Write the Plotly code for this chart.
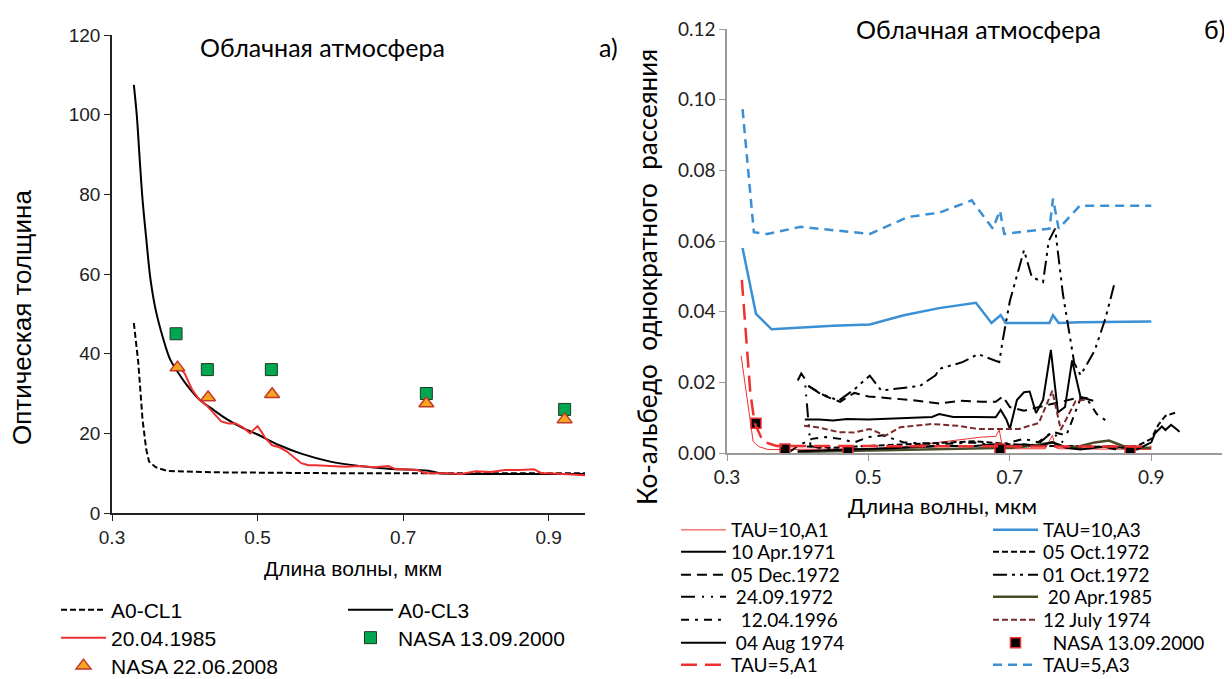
import plotly.graph_objects as go

# The page draws the figure 8 px in from the top-left corner of the window,
# so the figure is 8 px smaller and all reference pixel positions are shifted by 8.
OFF = 8
W, H = 1232 - OFF, 679 - OFF

def PX(x):
    return (x - OFF) / W

def PY(y):
    return 1 - (y - OFF) / H

# ---------------- Left panel data (optical thickness) ----------------
cl1_x = [0.33, 0.336, 0.342, 0.347, 0.351, 0.36, 0.375, 0.40, 0.45, 0.50, 0.60, 0.70, 0.80, 0.95]
cl1_y = [47.7, 38.0, 23.4, 16.0, 12.9, 11.5, 10.6, 10.4, 10.2, 10.1, 10.0, 10.0, 10.0, 10.0]

cl3_x = [0.33, 0.334, 0.338, 0.342, 0.347, 0.353, 0.36, 0.37, 0.38, 0.39, 0.40, 0.42, 0.44, 0.46,
         0.48, 0.50, 0.53, 0.56, 0.60, 0.64, 0.68, 0.72, 0.735, 0.75, 0.80, 0.95]
cl3_y = [107.5, 100.0, 89.0, 78.6, 69.0, 58.5, 51.0, 44.0, 38.5, 35.5, 32.8, 28.5, 25.8, 23.3,
         21.3, 19.7, 17.0, 14.9, 12.9, 11.8, 11.1, 10.8, 10.6, 10.0, 9.8, 9.8]

r85_x = [0.39, 0.40, 0.405, 0.41, 0.42, 0.43, 0.44, 0.45, 0.46, 0.47, 0.48, 0.49, 0.495, 0.50,
         0.505, 0.51, 0.52, 0.53, 0.54, 0.55, 0.56, 0.57, 0.58, 0.60, 0.62, 0.64, 0.66, 0.68,
         0.69, 0.70, 0.72, 0.73, 0.74, 0.76, 0.78, 0.80, 0.82, 0.84, 0.86, 0.88, 0.89, 0.90,
         0.92, 0.95]
r85_y = [37.0, 35.0, 33.0, 31.0, 28.5, 27.0, 25.0, 23.0, 22.5, 22.5, 21.5, 20.0, 21.0, 21.8,
         20.5, 19.0, 17.0, 16.5, 15.5, 14.0, 12.5, 12.0, 12.0, 11.8, 11.6, 11.8, 11.5, 11.8,
         11.0, 11.0, 10.8, 10.0, 10.0, 10.0, 9.8, 10.5, 10.3, 10.8, 10.8, 11.0, 10.0, 10.0,
         9.8, 9.5]

nasa00_x = [0.388, 0.431, 0.519, 0.732, 0.922]
nasa00_y = [45.0, 36.0, 36.0, 30.0, 26.0]
nasa08_x = [0.39, 0.432, 0.52, 0.732, 0.922]
nasa08_y = [36.5, 29.0, 29.8, 27.5, 23.5]

# ---------------- Right panel data (co-albedo) ----------------
t10a1_x = [0.32, 0.33, 0.337, 0.345, 0.358, 0.38, 0.40, 0.45, 0.50, 0.55, 0.58, 0.60, 0.62, 0.64,
           0.66, 0.68, 0.685, 0.69, 0.70, 0.72, 0.75, 0.76, 0.765, 0.77, 0.80, 0.85, 0.90]
t10a1_y = [0.0275, 0.014, 0.0032, 0.0018, 0.001, 0.001, 0.001, 0.001, 0.0012, 0.0018, 0.0025,
           0.003, 0.0035, 0.004, 0.0045, 0.0047, 0.0065, 0.0012, 0.0012, 0.0012, 0.0012, 0.005,
           0.0015, 0.0012, 0.0012, 0.001, 0.001]

t10a3_x = [0.322, 0.341, 0.363, 0.40, 0.45, 0.502, 0.55, 0.60, 0.652, 0.674, 0.687, 0.694, 0.756,
           0.761, 0.769, 0.80, 0.90]
t10a3_y = [0.058, 0.0394, 0.035, 0.0355, 0.036, 0.0364, 0.039, 0.041, 0.0425, 0.0368, 0.039,
           0.0368, 0.0368, 0.039, 0.0368, 0.037, 0.0372]

apr71_x = [0.41, 0.43, 0.45, 0.47, 0.50, 0.53, 0.56, 0.59, 0.60, 0.62, 0.65, 0.68, 0.687, 0.695,
           0.70, 0.71, 0.72, 0.728, 0.737, 0.747, 0.758, 0.768, 0.778, 0.788, 0.80, 0.818]
apr71_y = [0.0095, 0.0095, 0.0092, 0.0096, 0.0095, 0.0097, 0.0098, 0.0102, 0.011, 0.0102, 0.0102,
           0.0101, 0.0122, 0.0095, 0.0068, 0.015, 0.0172, 0.0174, 0.0113, 0.015, 0.0292, 0.0115,
           0.013, 0.0262, 0.0158, 0.0148]

oct05_x = [0.40, 0.45, 0.50, 0.55, 0.60, 0.65, 0.70, 0.75, 0.80, 0.85, 0.88, 0.90, 0.91, 0.92, 0.935]
oct05_y = [0.002, 0.0015, 0.002, 0.0025, 0.003, 0.0033, 0.0025, 0.002, 0.002, 0.0015, 0.002,
           0.004, 0.008, 0.0105, 0.0115]

dec05_x = [0.415, 0.44, 0.46, 0.48, 0.50, 0.53, 0.56, 0.60, 0.63, 0.66, 0.68, 0.69, 0.70, 0.72,
           0.74, 0.76, 0.78, 0.80, 0.81]
dec05_y = [0.019, 0.016, 0.0145, 0.017, 0.016, 0.0155, 0.015, 0.014, 0.0148, 0.0145, 0.0145,
           0.016, 0.013, 0.012, 0.013, 0.014, 0.015, 0.0158, 0.0155]

oct01_x = [0.415, 0.43, 0.458, 0.48, 0.502, 0.518, 0.545, 0.573, 0.595, 0.60, 0.633, 0.655, 0.685,
           0.69, 0.70, 0.72, 0.731, 0.747, 0.755, 0.764, 0.775, 0.786, 0.791, 0.80, 0.82, 0.835,
           0.848]
oct01_y = [0.019, 0.017, 0.0148, 0.018, 0.0219, 0.0177, 0.0183, 0.019, 0.022, 0.0238, 0.0257,
           0.028, 0.0257, 0.032, 0.043, 0.0574, 0.0498, 0.0484, 0.060, 0.0635, 0.045, 0.032,
           0.0255, 0.022, 0.029, 0.038, 0.048]

sep24_x = [0.40, 0.405, 0.41, 0.418, 0.43, 0.45, 0.50, 0.55, 0.60, 0.65, 0.70, 0.72, 0.74, 0.76,
           0.78, 0.80, 0.82, 0.84, 0.85]
sep24_y = [0.0205, 0.0225, 0.021, 0.002, 0.0015, 0.001, 0.001, 0.0015, 0.002, 0.002, 0.0015,
           0.002, 0.0025, 0.006, 0.002, 0.0015, 0.002, 0.0015, 0.001]

apr85_x = [0.40, 0.45, 0.50, 0.55, 0.60, 0.65, 0.70, 0.73, 0.76, 0.78, 0.80, 0.82, 0.84, 0.86,
           0.88, 0.90]
apr85_y = [0.0003, 0.0005, 0.0008, 0.001, 0.0012, 0.0013, 0.0015, 0.002, 0.003, 0.0015, 0.002,
           0.003, 0.0035, 0.002, 0.0015, 0.0015]

apr96_x = [0.39, 0.40, 0.42, 0.44, 0.46, 0.48, 0.50, 0.52, 0.55, 0.60, 0.65, 0.68, 0.70, 0.72,
           0.74, 0.76, 0.78, 0.80, 0.81, 0.823, 0.837]
apr96_y = [0.0005, 0.002, 0.004, 0.0045, 0.004, 0.003, 0.0045, 0.005, 0.003, 0.0025, 0.003,
           0.002, 0.003, 0.004, 0.003, 0.006, 0.005, 0.0155, 0.015, 0.011, 0.009]

jul74_x = [0.409, 0.43, 0.458, 0.48, 0.502, 0.524, 0.545, 0.589, 0.627, 0.655, 0.682, 0.713,
           0.741, 0.76, 0.772, 0.793, 0.807]
jul74_y = [0.0077, 0.0072, 0.0059, 0.0058, 0.0068, 0.0049, 0.0073, 0.0082, 0.0077, 0.0068,
           0.0068, 0.0068, 0.0085, 0.0176, 0.0066, 0.0147, 0.0151]

aug74_x = [0.40, 0.45, 0.50, 0.55, 0.60, 0.65, 0.68, 0.70, 0.72, 0.74, 0.76, 0.78, 0.80, 0.82,
           0.84, 0.86, 0.88, 0.90, 0.905, 0.915, 0.92, 0.928, 0.94]
aug74_y = [0.0005, 0.0008, 0.001, 0.0015, 0.002, 0.002, 0.0025, 0.002, 0.0025, 0.002, 0.003,
           0.0015, 0.001, 0.0015, 0.002, 0.0015, 0.001, 0.003, 0.0055, 0.0075, 0.0065, 0.008,
           0.006]

nasaR_x = [0.341, 0.382, 0.471, 0.686, 0.870]
nasaR_y = [0.0084, 0.0011, 0.0004, 0.0011, 0.0004]

t5a1_x = [0.321, 0.333, 0.339, 0.351, 0.37, 0.40, 0.50, 0.60, 0.70, 0.80, 0.90]
t5a1_y = [0.049, 0.017, 0.0085, 0.0032, 0.002, 0.002, 0.0018, 0.0018, 0.0018, 0.0018, 0.0018]

t5a3_x = [0.322, 0.338, 0.357, 0.404, 0.502, 0.556, 0.60, 0.646, 0.676, 0.686, 0.692, 0.756,
          0.761, 0.769, 0.799, 0.90]
t5a3_y = [0.0973, 0.0625, 0.062, 0.064, 0.062, 0.0668, 0.068, 0.0715, 0.0635, 0.0686, 0.062,
          0.0635, 0.072, 0.0635, 0.070, 0.070]

# ---------------- styling ----------------
ARIAL = "Liberation Sans, Arial, sans-serif"
CAL = "Lato, Open Sans, sans-serif"
BLUE = "#3b8fd4"
RED = "#f03030"

fig = go.Figure()

def add(x, y, name, leg, xa="x", ya="y", **kw):
    fig.add_trace(go.Scatter(x=x, y=y, name=name, legend=leg, xaxis=xa, yaxis=ya, **kw))

# left panel
add(cl1_x, cl1_y, "A0-CL1", "legend", mode="lines", line=dict(color="black", width=2, dash="6px,3px"))
add(cl3_x, cl3_y, "A0-CL3", "legend2", mode="lines", line=dict(color="black", width=2, shape="spline"))
add(r85_x, r85_y, "20.04.1985", "legend3", mode="lines", line=dict(color=RED, width=2))
add(nasa00_x, nasa00_y, "NASA 13.09.2000", "legend4", mode="markers",
    marker=dict(symbol="square", size=12, color="#00a650", line=dict(color="#1d3b1d", width=1)))
add(nasa08_x, nasa08_y, "NASA 22.06.2008", "legend5", mode="markers",
    marker=dict(symbol="triangle-up", size=13, color="#f7a520", line=dict(color="#c0392b", width=1.5)))

# right panel
R = dict(xa="x2", ya="y2")
add(t10a1_x, t10a1_y, "TAU=10,A1", "legend6", mode="lines", line=dict(color=RED, width=1), **R)
add(t10a3_x, t10a3_y, "TAU=10,A3", "legend7", mode="lines", line=dict(color=BLUE, width=2.5), **R)
add(apr71_x, apr71_y, "10 Apr.1971", "legend8", mode="lines", line=dict(color="black", width=2), **R)
add(oct05_x, oct05_y, "05 Oct.1972", "legend9", mode="lines", line=dict(color="black", width=2, dash="6px,3px"), **R)
add(dec05_x, dec05_y, "05 Dec.1972", "legend10", mode="lines", line=dict(color="black", width=2, dash="10px,6px"), **R)
add(oct01_x, oct01_y, "01 Oct.1972", "legend11", mode="lines",
    line=dict(color="black", width=2, dash="14px,5px,3px,5px,3px,5px"), **R)
add(sep24_x, sep24_y, " 24.09.1972", "legend12", mode="lines",
    line=dict(color="black", width=2, dash="14px,7px,2px,7px,2px,7px"), **R)
add(apr85_x, apr85_y, " 20 Apr.1985", "legend13", mode="lines", line=dict(color="#4a4a28", width=2.5), **R)
add(apr96_x, apr96_y, "  12.04.1996", "legend14", mode="lines",
    line=dict(color="black", width=2, dash="8px,6px,3px,6px"), **R)
add(jul74_x, jul74_y, "12 July 1974", "legend15", mode="lines", line=dict(color="#7a2a2a", width=2, dash="6px,3px"), **R)
add(aug74_x, aug74_y, " 04 Aug 1974", "legend16", mode="lines", line=dict(color="black", width=2), **R)
add(nasaR_x, nasaR_y, "  NASA 13.09.2000", "legend17", mode="markers",
    marker=dict(symbol="square", size=10, color="black", line=dict(color=RED, width=1.5)), **R)
add(t5a1_x, t5a1_y, "TAU=5,A1", "legend18", mode="lines", line=dict(color=RED, width=2.5, dash="16px,8px"), **R)
add(t5a3_x, t5a3_y, "TAU=5,A3", "legend19", mode="lines", line=dict(color=BLUE, width=2.5, dash="9px,6px"), **R)

IW = 45

def leg(text_x, row_y, font):
    return dict(x=PX(text_x - IW - 12), y=PY(row_y), xanchor="left", yanchor="middle",
                bgcolor="rgba(0,0,0,0)", borderwidth=0, font=font, itemwidth=IW)

LF = dict(family=ARIAL, size=21, color="black")
RF = dict(family=CAL, size=19, color="black")
legs = {
    "legend": leg(113, 610, LF), "legend2": leg(400, 610, LF),
    "legend3": leg(113, 638, LF), "legend4": leg(400, 638, LF),
    "legend5": leg(113, 666, LF),
}
rows = [530, 552, 575, 597, 620, 643, 665]
for i in range(14):
    r = rows[i // 2]
    tx = 733 if i % 2 == 0 else 1045
    legs["legend%d" % (i + 6)] = leg(tx, r, RF)

axis_common = dict(showgrid=False, zeroline=False, showline=True, ticks="outside", ticklen=6,
                   mirror=False, automargin=False)

fig.update_layout(
    width=W, height=H, margin=dict(l=0, r=0, t=0, b=0, autoexpand=False),
    paper_bgcolor="white", plot_bgcolor="white", showlegend=True,
    xaxis=dict(domain=[PX(112), PX(585)], range=[0.3, 0.95], tick0=0.3, dtick=0.2, anchor="y",
               linecolor="#222", tickcolor="#222", linewidth=1.5,
               tickfont=dict(family=ARIAL, size=19, color="#222"), **axis_common),
    yaxis=dict(domain=[PY(513), PY(35)], range=[0, 120], dtick=20, anchor="x",
               linecolor="#222", tickcolor="#222", linewidth=1.5,
               tickfont=dict(family=ARIAL, size=19, color="#222"), **axis_common),
    xaxis2=dict(domain=[PX(727), PX(1222)], range=[0.3, 1.0], tick0=0.3, dtick=0.2, anchor="y2",
                linecolor="#9a9a9a", tickcolor="#9a9a9a", linewidth=1.5,
                tickfont=dict(family=CAL, size=19, color="#222"), **axis_common),
    yaxis2=dict(domain=[PY(453), PY(29)], range=[0, 0.12], dtick=0.02, tickformat=".2f",
                anchor="x2", linecolor="#9a9a9a", tickcolor="#9a9a9a", linewidth=1.5,
                tickfont=dict(family=CAL, size=19, color="#222"), **axis_common),
    **legs,
)

def ann(text, x, y, font, angle=0):
    fig.add_annotation(text=text, x=PX(x), y=PY(y), xref="paper", yref="paper",
                       showarrow=False, font=font, textangle=angle, xanchor="center", yanchor="middle")

TF = dict(family=CAL, size=25, color="black")
ann("Облачная атмосфера", 322, 47, TF)
ann("а)", 608, 47, TF)
ann("Облачная атмосфера", 978, 29, TF)
ann("б)", 1214, 29, TF)
ann("Длина волны, мкм", 353, 568, dict(family=ARIAL, size=21, color="black"))
ann("Оптическая толщина", 22, 318, dict(family=ARIAL, size=26, color="black"), angle=-90)
ann("Длина волны, мкм", 942, 505, dict(family=CAL, size=22, color="black"))
ann("Ко-альбедо&nbsp;&nbsp;однократного&nbsp;&nbsp;рассеяния", 647, 277, dict(family=CAL, size=26, color="black"), angle=-90)

fig.write_html("out.html")
